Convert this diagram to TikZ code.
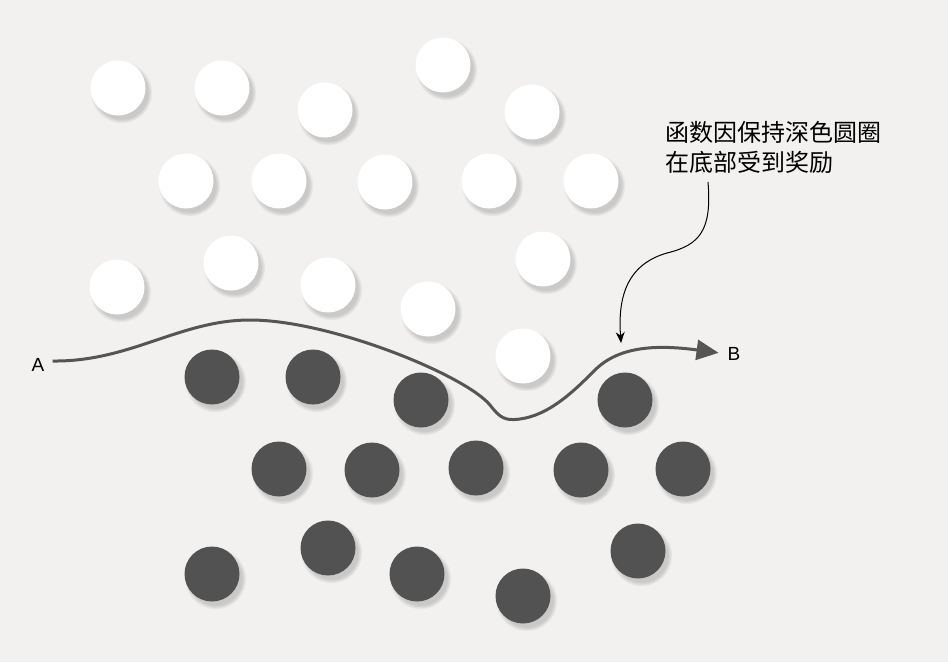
\documentclass[tikz,border=0pt]{standalone}
\usepackage{fontspec}
\setmainfont{Liberation Sans}
\newfontfamily\cjk{Noto Sans CJK SC}
\usetikzlibrary{arrows.meta,shadows}
\definecolor{bgpaper}{RGB}{242,241,240}
\definecolor{dotgray}{RGB}{82,82,82}
\definecolor{pathgray}{RGB}{85,85,85}

\begin{document}
\begin{tikzpicture}[
  x=1pt, y=-1pt,
  >=Stealth,
  dot/.style={circle, minimum size=55pt, inner sep=0pt,
    circular drop shadow={shadow xshift=3pt, shadow yshift=-4pt,
      opacity=0.35, shadow scale=1.12}},
  whitedot/.style={dot, fill=white},
  darkdot/.style={dot, fill=dotgray},
  endlabel/.style={font=\fontsize{19}{19}\selectfont, inner sep=0pt},
  note/.style={font=\cjk\fontsize{24}{30}\selectfont, align=left, inner sep=0pt}
]

% --- Background ---
\fill[bgpaper] (0,0) rectangle (948,662);
\useasboundingbox (0,0) rectangle (948,662);

% --- White circles (top) ---
\foreach \x/\y [count=\i] in {118/88, 222/88, 325/110, 443/65, 532/112,
    186/181, 279/181, 385/182, 489/181, 591/181,
    117/287, 231/263, 328/285, 428/309, 543/259, 523/356}
  \node[whitedot] (w\i) at (\x,\y) {};

% --- Dark circles (bottom) ---
\foreach \x/\y [count=\i] in {212/377, 313/377, 421/400, 625/400,
    279/469, 372/470, 476/468, 581/470, 683/469,
    212/574, 328/548, 417/574, 523/596, 638/551}
  \node[darkdot] (d\i) at (\x,\y) {};

% --- End points ---
\node[endlabel] (A) at (38,365) {A};
\node[endlabel] (B) at (734,354) {B};

% --- Separating path from A to B ---
\draw[pathgray, line width=3pt, -{Triangle[length=22pt,width=20pt]}, shorten >=9pt]
  ([xshift=8pt,yshift=4pt]A.east) .. controls (130,362) and (180,320) .. (250,320)
  .. controls (330,320) and (465,375) .. (490,405)
  .. controls (500,418) and (505,421) .. (520,419)
  .. controls (550,415) and (575,390) .. (595,370)
  .. controls (620,345) and (660,345) .. (B.west);

% --- Annotation ---
\node[note, anchor=north west] (note) at (665,121)
  {函数因保持深色圆圈\\在底部受到奖励};
\coordinate (notefoot) at (708,182);
\coordinate (target) at (621,343);
\draw[-{Stealth[length=11pt,width=9pt]}, line width=1pt]
  (notefoot) .. controls (712,230) and (700,245) .. (667,253)
  .. controls (625,265) and (618,300) .. (target);

\end{tikzpicture}
\end{document}
